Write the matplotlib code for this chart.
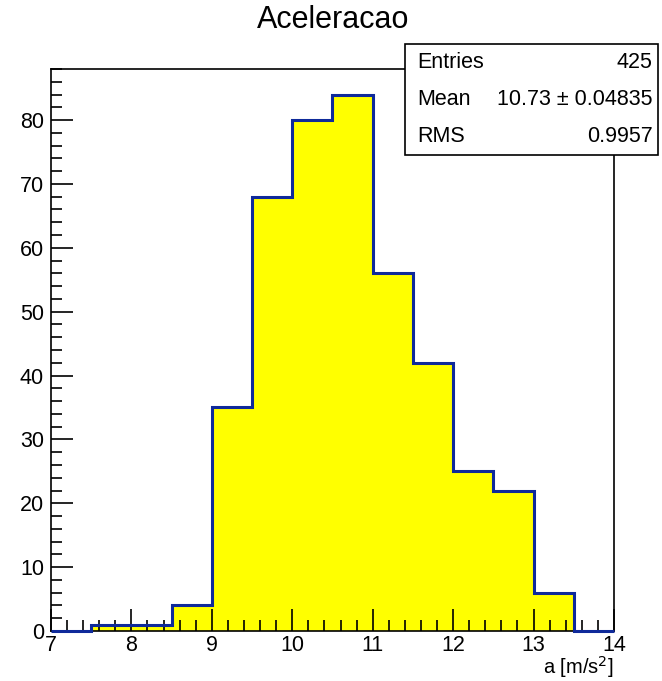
import numpy as np
import matplotlib
matplotlib.use("Agg")
import matplotlib.pyplot as plt
from matplotlib.ticker import MultipleLocator

plt.rcParams['font.family'] = ['Liberation Sans', 'DejaVu Sans']

# histogram data
edges = np.arange(7.0, 14.01, 0.5)
counts = [0, 1, 1, 4, 35, 68, 80, 84, 56, 42, 25, 22, 6, 0]
stats_names = ["Entries", "Mean", "RMS"]
stats_vals = ["425", "10.73 \u00b1 0.04835", "0.9957"]

fig = plt.figure(figsize=(6.62, 6.81), dpi=100)
ax = fig.add_axes([0.077, 0.0734, 0.8505, 0.8253])

ax.stairs(counts, edges, fill=True, color='#ffff00', lw=0)
ax.stairs(counts, edges, color='#0f2a9a', lw=2.2, zorder=5, clip_on=False)

ax.set_xlim(7, 14)
ax.set_ylim(0, 88)
ax.xaxis.set_major_locator(MultipleLocator(1))
ax.xaxis.set_minor_locator(MultipleLocator(0.2))
ax.yaxis.set_major_locator(MultipleLocator(10))
ax.yaxis.set_minor_locator(MultipleLocator(2))
ax.tick_params(which='both', direction='in', labelsize=15.5, width=1.2)
ax.tick_params(which='major', length=16, pad=5)
ax.tick_params(axis='x', which='major', pad=3)
ax.tick_params(which='minor', length=8)
for s in ax.spines.values():
    s.set_linewidth(1.2)

ax.set_xlabel("a [m/s$^2$]", fontsize=14.5, loc='right')
ax.xaxis.set_label_coords(1.0, -0.041)
ax.xaxis.label.set_horizontalalignment('right')
ax.xaxis.label.set_verticalalignment('top')

fig.text(0.503, 0.97, "Aceleracao", ha='center', va='center', fontsize=22)

# stats box
bx0, by0, bw, bh = 0.612, 0.772, 0.382, 0.163
box = plt.Rectangle((bx0, by0), bw, bh, transform=fig.transFigure,
                    facecolor='white', edgecolor='black', lw=1.2, zorder=10)
fig.add_artist(box)
for i, (n, v) in enumerate(zip(stats_names, stats_vals)):
    yy = by0 + bh - (i + 0.5) * bh / 3
    fig.text(bx0 + 0.018, yy, n, ha='left', va='center', fontsize=15.5, zorder=11)
    fig.text(bx0 + bw - 0.008, yy, v, ha='right', va='center', fontsize=15.5, zorder=11)

fig.savefig("out.png", dpi=100)
